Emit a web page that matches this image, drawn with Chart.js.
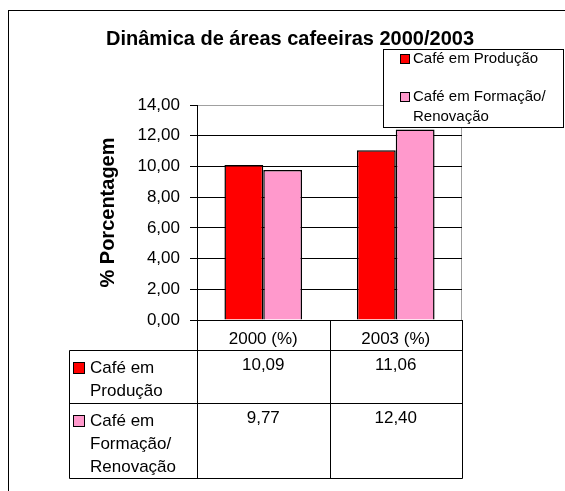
<!DOCTYPE html>
<html>
<head>
<meta charset="utf-8">
<script src="https://cdn.jsdelivr.net/npm/chart.js@4.4.1/dist/chart.umd.min.js"></script>
<style>
  html, body { margin: 0; padding: 0; background: #fff; }
  #wrap { width: 565px; height: 491px; }
</style>
</head>
<body>
<div id="wrap"><canvas id="chart" width="565" height="491"></canvas></div>
<script>
// data
const chartTitle = 'Dinâmica de áreas cafeeiras 2000/2003';
const categories = ['2000 (%)', '2003 (%)'];
const producao = [10.09, 11.06];
const formacao = [9.77, 12.40];
const seriesNames = ['Café em Produção', 'Café em Formação/Renovação'];
const legendLines = [['Café em Produção'], ['Café em Formação/', 'Renovação']];
const tableLines = [['Café em', 'Produção'], ['Café em', 'Formação/', 'Renovação']];
const yMin = 0, yMax = 14, yStep = 2;

const FONT = 'Arial, "Liberation Sans", sans-serif';
const fmt = (v) => Number(v).toFixed(2).replace('.', ',');

// outer frame, title and grey plot area border
const framePlugin = {
  id: 'frame',
  beforeDraw(chart) {
    const { ctx, chartArea: a } = chart;
    ctx.save();
    ctx.fillStyle = '#fff';
    ctx.fillRect(0, 0, chart.width, chart.height);
    ctx.strokeStyle = '#000';
    ctx.lineWidth = 1;
    ctx.strokeRect(8.5, 10.5, chart.width, chart.height);
    ctx.strokeStyle = '#a0a0a0';
    ctx.strokeRect(a.left + 0.5, a.top + 0.5, a.right - a.left - 1, a.bottom - a.top);
    ctx.fillStyle = '#000';
    ctx.font = 'bold 20px ' + FONT;
    ctx.textAlign = 'center';
    ctx.textBaseline = 'alphabetic';
    ctx.fillText(chartTitle, 290, 45);
    ctx.restore();
  },
};

// data table under the x axis
const tablePlugin = {
  id: 'dataTable',
  afterDraw(chart) {
    const { ctx, chartArea: a, scales: { x } } = chart;
    const mid = (x.getPixelForValue(0) + x.getPixelForValue(1)) / 2;
    const cols = [a.left, mid, a.right];
    const labelLeft = 69;
    const rows = [a.bottom + 30, a.bottom + 83, a.bottom + 158];
    const px = (v) => Math.round(v) + 0.5;

    ctx.save();
    ctx.strokeStyle = '#000';
    ctx.lineWidth = 1;
    ctx.beginPath();
    cols.forEach((c) => { ctx.moveTo(px(c), a.bottom); ctx.lineTo(px(c), px(rows[2])); });
    ctx.moveTo(px(labelLeft), px(rows[0])); ctx.lineTo(px(labelLeft), px(rows[2]));
    rows.forEach((r) => { ctx.moveTo(px(labelLeft), px(r)); ctx.lineTo(px(a.right), px(r)); });
    ctx.stroke();

    ctx.font = '17px ' + FONT;
    ctx.textBaseline = 'middle';
    chart.data.datasets.forEach((ds, i) => {
      const top = rows[i];
      ctx.fillStyle = ds.backgroundColor;
      ctx.fillRect(labelLeft + 4, top + 12, 11, 11);
      ctx.strokeRect(labelLeft + 4.5, top + 12.5, 11, 11);
      ctx.fillStyle = '#000';
      ctx.textAlign = 'left';
      tableLines[i].forEach((t, k) => ctx.fillText(t, labelLeft + 21, top + 18 + k * 23));
      ctx.textAlign = 'center';
      ds.data.forEach((v, j) => {
        ctx.fillText(fmt(v), (cols[j] + cols[j + 1]) / 2, top + 15);
      });
    });
    ctx.restore();
  },
};

// boxed legend at upper right
const legendPlugin = {
  id: 'boxLegend',
  afterDraw(chart) {
    const { ctx } = chart;
    const bx = 383, by = 49, bw = 180, bh = 78;
    ctx.save();
    ctx.fillStyle = '#fff';
    ctx.fillRect(bx, by, bw, bh);
    ctx.strokeStyle = '#000';
    ctx.lineWidth = 1;
    ctx.strokeRect(bx + 0.5, by + 0.5, bw, bh);
    ctx.font = '15px ' + FONT;
    ctx.textBaseline = 'middle';
    ctx.textAlign = 'left';
    const itemY = [by + 10, by + 48];
    chart.data.datasets.forEach((ds, i) => {
      ctx.fillStyle = ds.backgroundColor;
      ctx.fillRect(bx + 17, itemY[i] - 5, 9, 9);
      ctx.strokeRect(bx + 17.5, itemY[i] - 4.5, 9, 9);
      ctx.fillStyle = '#000';
      legendLines[i].forEach((t, k) => ctx.fillText(t, bx + 30, itemY[i] + k * 20));
    });
    ctx.restore();
  },
};

new Chart(document.getElementById('chart'), {
  type: 'bar',
  data: {
    labels: categories,
    datasets: [
      {
        label: seriesNames[0],
        data: producao,
        backgroundColor: '#ff0000',
        borderColor: '#000',
        borderWidth: 1.5,
      },
      {
        label: seriesNames[1],
        data: formacao,
        backgroundColor: '#ff99cc',
        borderColor: '#000',
        borderWidth: 1.5,
      },
    ],
  },
  options: {
    responsive: false,
    animation: false,
    events: [],
    datasets: { bar: { barPercentage: 1, categoryPercentage: 0.586 } },
    layout: { padding: { left: 8, right: 103, top: 105, bottom: 140 } },
    plugins: {
      legend: { display: false },
      tooltip: { enabled: false },
      title: { display: false },
    },
    scales: {
      x: {
        afterFit: (s) => { s.height = 31; },
        grid: { display: false },
        border: { display: true, color: '#000' },
        ticks: { color: '#000', font: { family: FONT, size: 17 }, padding: 1 },
      },
      y: {
        min: yMin,
        max: yMax,
        afterFit: (s) => { s.width = 189; },
        grid: {
          color: (c) => (c.tick && c.tick.value === yMax ? '#a0a0a0' : '#000'),
          tickColor: '#000',
          tickLength: 7,
        },
        border: { display: true, color: '#000' },
        ticks: {
          stepSize: yStep,
          color: '#000',
          padding: 10,
          font: { family: FONT, size: 17 },
          callback: (v) => fmt(v),
        },
        title: {
          display: true,
          text: '% Porcentagem',
          color: '#000',
          font: { family: FONT, size: 20, weight: 'bold' },
          padding: { top: 88, bottom: 0 },
        },
      },
    },
  },
  plugins: [framePlugin, tablePlugin, legendPlugin],
});
</script>
</body>
</html>
